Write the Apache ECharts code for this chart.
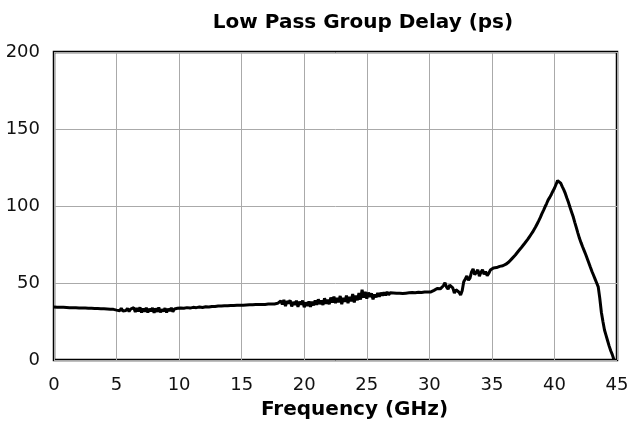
<!DOCTYPE html>
<html>
<head>
<meta charset="utf-8">
<script src="https://cdn.jsdelivr.net/npm/echarts@6/dist/echarts.min.js"></script>
<style>
	html, body { margin: 0; padding: 0; background: #fff; }
	#main { width: 636px; height: 424px; }
</style>
</head>
<body>
<div id="main"></div>
<script>
// frequency step of the samples (GHz)
var freqStep = 0.125;

// group delay (ps), one sample per 0.125 GHz starting at 0 GHz
var delay = [
	// 0 - 4.875
	34.4, 34.4, 34.3, 34.3, 34.2, 34.2, 34.2, 34.1, 34.1, 34.1,
	34.0, 34.0, 34.0, 33.9, 33.9, 33.8, 33.8, 33.8, 33.8, 33.7,
	33.7, 33.7, 33.6, 33.6, 33.6, 33.5, 33.5, 33.4, 33.4, 33.3,
	33.3, 33.2, 33.2, 33.1, 33.1, 33.0, 33.0, 32.9, 32.9, 32.8,
	// 5 - 9.875
	32.4, 33.3, 32.0, 33.6, 31.8, 32.9, 32.2, 33.5, 31.5, 33.1,
	31.9, 34.0, 31.2, 33.7, 31.6, 34.2, 30.8, 33.4, 31.4, 33.9,
	30.9, 33.2, 31.7, 33.8, 30.6, 33.5, 31.3, 34.1, 31.0, 32.9,
	31.6, 33.6, 30.9, 33.3, 31.8, 33.9, 31.4, 33.1, 32.0, 33.6,
	// 10 - 14.875
	32.6, 33.8, 32.9, 33.6, 32.7, 34.0, 33.1, 33.7, 33.0, 34.2,
	33.3, 34.0, 33.4, 34.4, 33.6, 34.1, 33.8, 34.6, 34.0, 34.4,
	34.2, 34.8, 34.3, 34.7, 34.6, 35.0, 34.7, 35.0, 34.9, 35.2,
	35.0, 35.2, 35.1, 35.4, 35.2, 35.4, 35.3, 35.5, 35.4, 35.6,
	// 15 - 17.875
	35.6, 35.6, 35.7, 35.7, 35.7, 35.8, 35.8, 35.9, 35.9, 36.0,
	36.0, 36.0, 36.1, 36.1, 36.2, 36.1, 36.2, 36.3, 36.3, 36.4,
	36.5, 36.4, 36.6, 36.8,
	// 18 - 22.875
	35.6, 38.4, 36.2, 39.0, 35.0, 38.2, 36.8, 38.8, 34.8, 37.6,
	35.9, 38.5, 34.5, 37.9, 36.1, 38.6, 34.3, 37.4, 35.2, 38.0,
	34.6, 37.8, 35.5, 38.7, 35.9, 39.4, 36.3, 38.6, 35.8, 40.1,
	36.6, 39.2, 36.2, 40.6, 37.3, 41.2, 36.9, 40.3, 37.5, 41.6,
	// 23 - 25.875
	36.2, 40.4, 37.8, 41.8, 36.9, 41.0, 38.2, 42.8, 37.4, 41.9,
	38.8, 43.4, 39.2, 45.6, 40.6, 44.2, 39.8, 43.8, 40.9, 43.2,
	39.4, 42.6, 40.8, 43.5,
	// 26 - 29.875
	41.2, 43.6, 41.8, 43.9, 42.0, 44.2, 42.4, 43.7, 42.6, 43.5,
	42.5, 43.3, 42.7, 43.4, 42.9, 43.2, 42.9, 43.4, 43.1, 43.6,
	43.2, 43.8, 43.4, 43.7, 43.5, 44.0, 43.6, 43.9, 43.7, 44.2,
	43.8, 44.1,
	// 30 - 34.875
	43.7, 44.2, 44.6, 45.2, 45.4, 46.4, 47.6, 46.2, 45.8, 48.2,
	50.2, 47.4, 46.0, 48.6, 49.2, 46.8, 43.4, 45.6, 46.2, 44.0,
	42.2, 45.0, 50.8, 52.6, 54.6, 51.8, 53.2, 57.2, 59.2, 55.4,
	56.8, 58.6, 54.4, 57.0, 58.6, 55.6, 57.4, 54.8, 56.2, 58.4,
	// 35 - 39.875
	59.2, 59.8, 60.4, 60.0, 60.4, 60.8, 60.6, 61.2, 61.6, 62.2,
	63.0, 63.8, 65.0, 66.0, 67.0, 68.2, 69.5, 70.8, 72.0, 73.2,
	74.5, 75.8, 77.0, 78.5, 80.0, 81.5, 83.0, 84.8, 86.5, 88.5,
	90.5, 92.6, 95.0, 97.2, 99.5, 101.6, 104.0, 105.6, 107.5, 109.6,
	// 40 - 44.75
	111.5, 114.0, 116.5, 117.0, 114.8, 112.6, 110.5, 108.0, 105.0, 102.2,
	99.0, 96.0, 93.0, 89.4, 86.0, 82.4, 79.0, 76.2, 73.5, 71.0,
	68.5, 65.8, 63.0, 60.2, 57.5, 55.0, 52.5, 50.0, 47.5, 40.0,
	31.0, 25.0, 19.5, 16.0, 12.5, 9.0, 6.0, 3.5, 0.3
];

var chartTitle = 'Low Pass Group Delay (ps)';
var xName = 'Frequency (GHz)';

var points = [];
for (var i = 0; i < delay.length; i++) {
	points.push([i * freqStep, delay[i]]);
}

var myChart = echarts.init(document.getElementById('main'));
var option = {
	animation: false,
	backgroundColor: '#fff',
	title: {
		text: chartTitle,
		left: 358,
		top: 8,
		textAlign: 'center',
		textStyle: {
			fontFamily: 'DejaVu Sans',
			fontWeight: 'bold',
			fontSize: 20,
			color: '#000'
		}
	},
	grid: {
		left: 54,
		right: 19,
		top: 52,
		bottom: 64,
		outerBoundsMode: 'none',
		show: true,
		borderColor: '#000',
		borderWidth: 2.5,
		backgroundColor: 'transparent'
	},
	xAxis: {
		type: 'value',
		min: 0,
		max: 45,
		interval: 5,
		name: xName,
		nameLocation: 'middle',
		nameGap: 40,
		nameTextStyle: {
			fontFamily: 'DejaVu Sans',
			fontWeight: 'bold',
			fontSize: 20,
			color: '#000',
			padding: [0, 0, 0, 38]
		},
		axisLine: { show: false },
		axisTick: { show: false },
		axisLabel: {
			margin: 16,
			fontFamily: 'DejaVu Sans',
			fontSize: 18,
			color: '#111'
		},
		splitLine: { lineStyle: { color: '#aaa', width: 1 } }
	},
	yAxis: {
		type: 'value',
		min: 0,
		max: 200,
		interval: 50,
		axisLine: { show: false },
		axisTick: { show: false },
		axisLabel: {
			margin: 14,
			fontFamily: 'DejaVu Sans',
			fontSize: 18,
			color: '#111'
		},
		splitLine: { lineStyle: { color: '#aaa', width: 1 } }
	},
	series: [{
		type: 'line',
		data: points,
		showSymbol: false,
		lineStyle: { color: '#000', width: 3 },
		itemStyle: { color: '#000' }
	}]
};
myChart.setOption(option);
</script>
</body>
</html>
